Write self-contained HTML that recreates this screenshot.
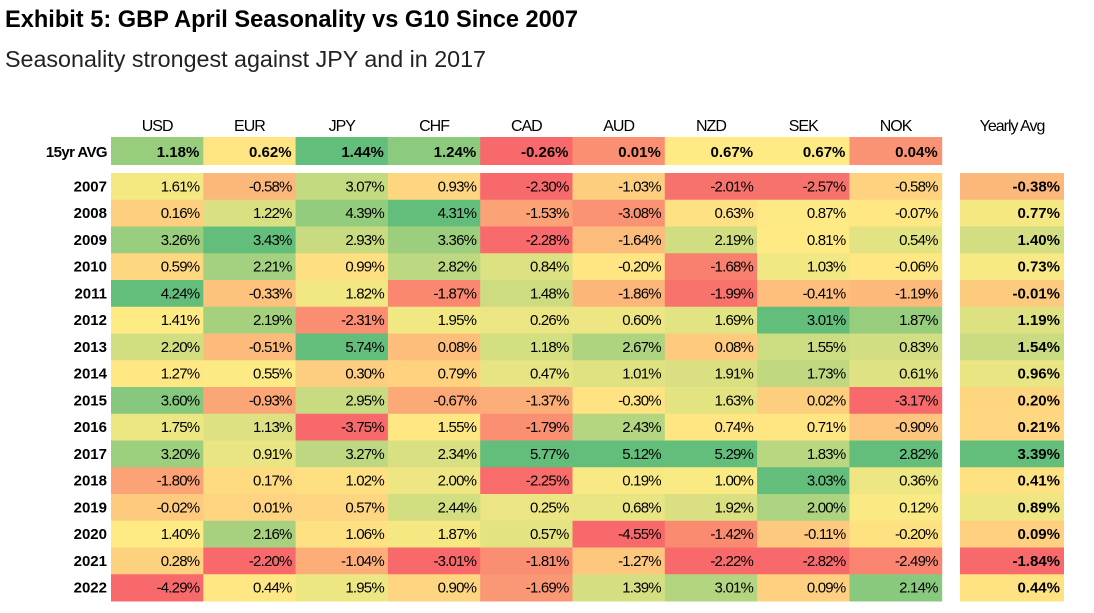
<!DOCTYPE html>
<html><head><meta charset="utf-8"><style>
body{margin:0;background:#fff;width:1094px;height:608px;overflow:hidden}
svg text{font-family:"Liberation Sans",sans-serif}
</style></head><body>
<svg id="chart" width="1094" height="608" xmlns="http://www.w3.org/2000/svg">
<text x="5" y="27" font-size="24" font-weight="bold" textLength="573" lengthAdjust="spacingAndGlyphs">Exhibit 5: GBP April Seasonality vs G10 Since 2007</text>
<text x="5" y="67" font-size="23" fill="#222" textLength="481" lengthAdjust="spacingAndGlyphs">Seasonality strongest against JPY and in 2017</text>
<g id="cells"></g>
</svg>
<script>
const currencies=["USD","EUR","JPY","CHF","CAD","AUD","NZD","SEK","NOK"];
const years=["2007","2008","2009","2010","2011","2012","2013","2014","2015","2016","2017","2018","2019","2020","2021","2022"];
const avg15=[1.18,0.62,1.44,1.24,-0.26,0.01,0.67,0.67,0.04];
const values=[
[1.61,-0.58,3.07,0.93,-2.30,-1.03,-2.01,-2.57,-0.58],
[0.16,1.22,4.39,4.31,-1.53,-3.08,0.63,0.87,-0.07],
[3.26,3.43,2.93,3.36,-2.28,-1.64,2.19,0.81,0.54],
[0.59,2.21,0.99,2.82,0.84,-0.20,-1.68,1.03,-0.06],
[4.24,-0.33,1.82,-1.87,1.48,-1.86,-1.99,-0.41,-1.19],
[1.41,2.19,-2.31,1.95,0.26,0.60,1.69,3.01,1.87],
[2.20,-0.51,5.74,0.08,1.18,2.67,0.08,1.55,0.83],
[1.27,0.55,0.30,0.79,0.47,1.01,1.91,1.73,0.61],
[3.60,-0.93,2.95,-0.67,-1.37,-0.30,1.63,0.02,-3.17],
[1.75,1.13,-3.75,1.55,-1.79,2.43,0.74,0.71,-0.90],
[3.20,0.91,3.27,2.34,5.77,5.12,5.29,1.83,2.82],
[-1.80,0.17,1.02,2.00,-2.25,0.19,1.00,3.03,0.36],
[-0.02,0.01,0.57,2.44,0.25,0.68,1.92,2.00,0.12],
[1.40,2.16,1.06,1.87,0.57,-4.55,-1.42,-0.11,-0.20],
[0.28,-2.20,-1.04,-3.01,-1.81,-1.27,-2.22,-2.82,-2.49],
[-4.29,0.44,1.95,0.90,-1.69,1.39,3.01,0.09,2.14]];
const yearlyAvg=[-0.38,0.77,1.40,0.73,-0.01,1.19,1.54,0.96,0.20,0.21,3.39,0.41,0.89,0.09,-1.84,0.44];

const NS="http://www.w3.org/2000/svg";
const g=document.getElementById('cells');
const colX=i=>111+i*92.3, colW=92.3, yearlyX=960, yearlyW=104;
const rowY=i=>173+i*26.75, rowH=26.75;
const RED=[248,105,107],YEL=[255,235,132],GRN=[99,190,123];
function median(a){const s=[...a].sort((x,y)=>x-y);const n=s.length;return n%2?s[(n-1)/2]:(s[n/2-1]+s[n/2])/2;}
function scale(arr){const mn=Math.min(...arr),mx=Math.max(...arr),md=median(arr);
 return v=>{let a,b,t;if(v<=md){a=RED;b=YEL;t=(v-mn)/(md-mn||1);}else{a=YEL;b=GRN;t=(v-md)/(mx-md||1);}
 t=Math.max(0,Math.min(1,t));return `rgb(${a.map((c,k)=>Math.round(c+(b[k]-c)*t)).join(',')})`;};}
function el(tag,attrs,txt){const e=document.createElementNS(NS,tag);for(const k in attrs)e.setAttribute(k,attrs[k]);if(txt!=null)e.textContent=txt;g.appendChild(e);return e;}
const fmt=v=>v.toFixed(2)+'%';

currencies.forEach((c,i)=>{
 const t=el('text',{x:colX(i)+colW/2,y:131,'font-size':16,'text-anchor':'middle','letter-spacing':'-1'},c);
 
 
});
const yh=el('text',{x:yearlyX+yearlyW/2,y:131,'font-size':16,'text-anchor':'middle','letter-spacing':'-1'},'Yearly Avg');



const al=el('text',{x:107,y:157,'font-size':15,'font-weight':'bold','text-anchor':'end','letter-spacing':'-0.6'},'15yr AVG');


const avgScale=scale(avg15);
avg15.forEach((v,i)=>{
 const r=el('rect',{x:colX(i),y:137,width:colW+0.5,height:28,fill:avgScale(v)});
 
 
 const t=el('text',{x:colX(i)+colW-4,y:157,'font-size':15,'font-weight':'bold','text-anchor':'end'},fmt(v));
 
 
});

const colScales=currencies.map((c,j)=>scale(values.map(r=>r[j])));
const yScale=scale(yearlyAvg);
years.forEach((y,i)=>{
 const ty=rowY(i)+rowH/2+5;
 const l=el('text',{x:107,y:ty,'font-size':15,'font-weight':'bold','text-anchor':'end'},y);
 
 
 values[i].forEach((v,j)=>{
  const r=el('rect',{x:colX(j),y:rowY(i),width:colW+0.5,height:rowH+0.5,fill:colScales[j](v)});
  
  
  const t=el('text',{x:colX(j)+colW-4,y:ty,'font-size':15,'text-anchor':'end','letter-spacing':'-0.8'},fmt(v));
  
  
 });
 const r=el('rect',{x:yearlyX,y:rowY(i),width:yearlyW,height:rowH+0.5,fill:yScale(yearlyAvg[i])});
 
 
 const t=el('text',{x:yearlyX+yearlyW-4,y:ty,'font-size':15,'font-weight':'bold','text-anchor':'end'},fmt(yearlyAvg[i]));
 
 
});
</script>
</body></html>
